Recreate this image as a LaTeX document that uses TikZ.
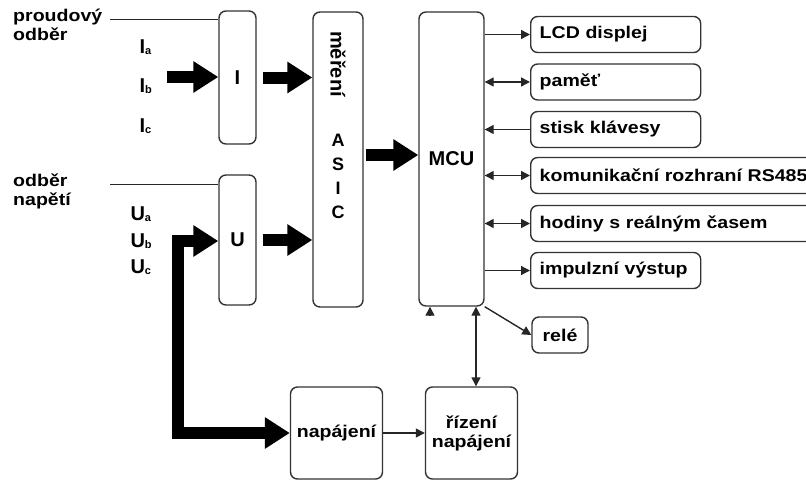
\documentclass[tikz,border=0pt]{standalone}
\usepackage{fontspec}
\setmainfont{Liberation Sans}[FakeStretch=1.15]
\newfontfamily\rovne{Liberation Sans}
\usetikzlibrary{arrows.meta}
\newcommand\dolni[1]{\raisebox{-1.5pt}{\fontsize{11}{11}\selectfont #1}}

\begin{document}
\begin{tikzpicture}[x=1pt,y=-1pt,
	every node/.style={font=\bfseries\fontsize{17}{19}\selectfont},
	velke/.style={font=\rovne\bfseries\fontsize{20}{22}\selectfont},
	blok/.style={draw=black!80, line width=1.4pt, rounded corners=7pt, inner sep=0pt},
	periferie/.style={blok, anchor=west, minimum height=36pt, text width=#1, inner xsep=9pt, align=left},
	tenka/.style={draw=black!85, line width=1.4pt},
	hrot/.style={-{Triangle[length=9pt,width=9pt]}},
	oba/.style={{Triangle[length=9pt,width=9pt]}-{Triangle[length=9pt,width=9pt]}},
	silna/.style={line width=12pt, line join=miter, -{Triangle[length=25pt,width=30pt]}}]

	\useasboundingbox (0,0) rectangle (806,482);
	\clip (0,0) rectangle (806,482);

	% vstupy
	\node[anchor=north west, align=left, inner sep=0pt] (proud) at (13,9) {proudový\\odběr};
	\node[anchor=north west, align=left, inner sep=0pt] (napeti) at (13,174) {odběr\\napětí};
	\node[velke, anchor=base west] (ia) at (136,53) {I\dolni{a}};
	\node[velke, anchor=base west] (ib) at (136,92) {I\dolni{b}};
	\node[velke, anchor=base west] (ic) at (136,132) {I\dolni{c}};
	\node[velke, anchor=base west] (ua) at (127,220) {U\dolni{a}};
	\node[velke, anchor=base west] (ub) at (127,247) {U\dolni{b}};
	\node[velke, anchor=base west] (uc) at (127,273) {U\dolni{c}};

	% bloky
	\node[blok, velke, minimum width=37pt, minimum height=133pt] (ibox) at (237.5,77.5) {I};
	\node[blok, velke, minimum width=37pt, minimum height=130pt] (ubox) at (237.5,240) {U};
	\node[blok, minimum width=50pt, minimum height=295pt] (asic) at (338,159.5) {};
	\node[velke, rotate=-90] (asicm) at (338,64) {měření};
	\node[align=center, font=\rovne\bfseries\fontsize{18}{24}\selectfont] (asict) at (338,176) {A\\S\\I\\C};
	\node[blok, velke, minimum width=65pt, minimum height=294pt] (mcu) at (451.5,159) {MCU};

	\node[periferie=152pt] (lcd) at (530,34.5) {LCD displej};
	\node[periferie=152pt] (pamet) at (530,82) {paměť};
	\node[periferie=152pt] (stisk) at (530,129.5) {stisk klávesy};
	\node[periferie=290pt] (rs) at (530,175.5) {komunikační rozhraní RS485};
	\node[periferie=290pt] (hodiny) at (530,223.5) {hodiny s reálným časem};
	\node[periferie=152pt] (impuls) at (530,270.5) {impulzní výstup};
	\node[blok, minimum width=56pt, minimum height=36pt] (rele) at (560,335) {relé};
	\node[blok, minimum size=92pt] (napajeni) at (336.5,433) {napájení};
	\node[blok, minimum size=92pt, align=center] (rizeni) at (471.5,433) {řízení\\napájení};

	% vedeni
	\coordinate (pv) at (110,19);
	\coordinate (nv) at (110,184);
	\draw[tenka, line width=1pt] (pv) -- (ibox.west |- pv);
	\draw[tenka, line width=1pt] (nv) -- (ubox.west |- nv);

	\coordinate (iin) at (167,77);
	\draw[silna] (iin) -- (ibox.west |- iin);
	\draw[silna, shorten <=6pt] (ibox.east) -- (asic.west |- ibox.east);
	\draw[silna, shorten <=6pt] (ubox.east) -- (asic.west |- ubox.east);
	\draw[silna, shorten <=2pt] (asic.east |- 0,155) -- (mcu.west |- 0,155);

	\coordinate (roh) at (178,241);
	\draw[silna, {Triangle[length=25pt,width=30pt]}-{Triangle[length=25pt,width=30pt]}]
		(ubox.west |- roh) -- (roh) -- (roh |- napajeni.west) -- (napajeni.west);

	\draw[tenka, hrot] (mcu.east |- lcd.west) -- (lcd.west);
	\draw[tenka, oba] (mcu.east |- pamet.west) -- (pamet.west);
	\draw[tenka, hrot] (stisk.west) -- (mcu.east |- stisk.west);
	\draw[tenka, oba] (mcu.east |- rs.west) -- (rs.west);
	\draw[tenka, oba] (mcu.east |- hodiny.west) -- (hodiny.west);
	\draw[tenka, hrot] (mcu.east |- impuls.west) -- (impuls.west);
	\draw[tenka, hrot] (mcu.south east) -- (rele.west);
	\draw[tenka, oba] (mcu.south -| 476,0) -- (rizeni.north -| 476,0);
	\draw[tenka, hrot] (napajeni.east) -- (rizeni.west);

	\coordinate (spod) at (430,316);
	\draw[tenka, hrot] (spod) -- (mcu.south -| spod);

\end{tikzpicture}
\end{document}
